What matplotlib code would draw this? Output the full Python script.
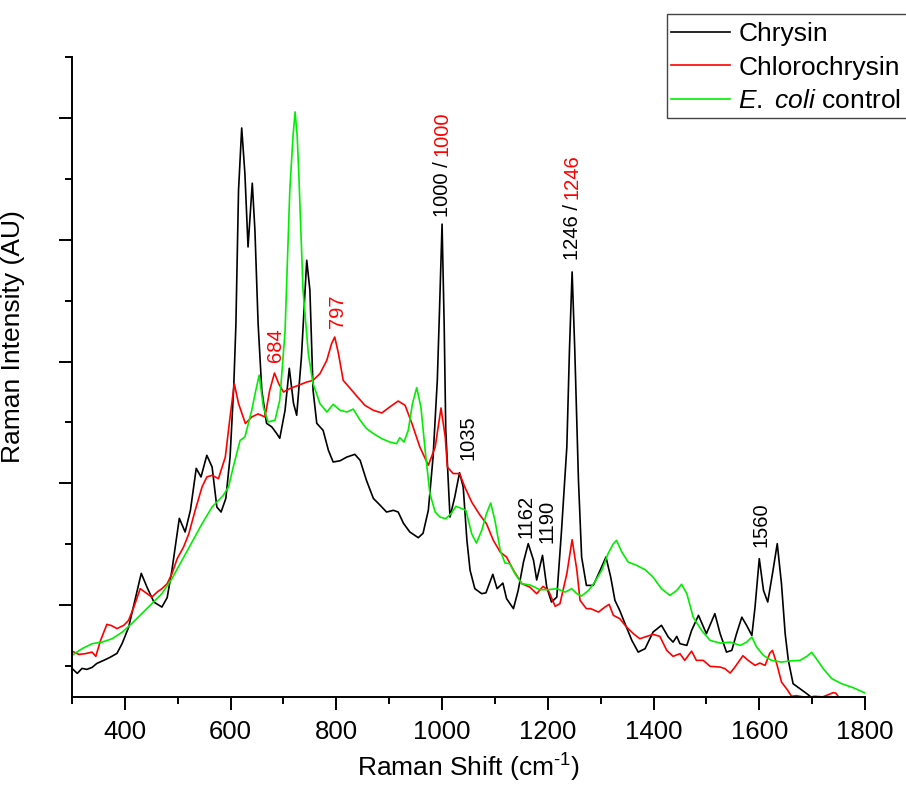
import matplotlib
matplotlib.use("Agg")
import matplotlib.pyplot as plt
from matplotlib.ticker import MultipleLocator, NullFormatter
from matplotlib.patches import Rectangle

plt.rcParams['font.family'] = ['Liberation Sans', 'DejaVu Sans']
plt.rcParams['mathtext.fontset'] = 'custom'
plt.rcParams['mathtext.rm'] = 'Liberation Sans'
plt.rcParams['mathtext.it'] = 'Liberation Sans:italic'

# ---- data (Raman shift in cm-1, intensity in arbitrary units) ----
chrysin_x = [300, 310, 319, 328, 338, 347, 360, 372, 385, 395, 407, 419, 431, 442, 455, 470, 480, 489,
             503, 514, 524, 535, 544, 555, 565, 574, 582, 591, 599, 606, 610, 615, 621, 627, 633, 641,
             646, 652, 659, 668, 678, 687, 693, 703, 711, 719, 725, 734, 744, 750, 756, 763, 775, 785,
             794, 807, 820, 835, 845, 857, 870, 883, 895, 908, 917, 927, 939, 955, 964, 974, 983, 991,
             995, 1000, 1004, 1007, 1015, 1024, 1033, 1040, 1047, 1053, 1062, 1075, 1083, 1096, 1104,
             1115, 1122, 1135, 1144, 1154, 1163, 1173, 1179, 1190, 1198, 1207, 1217, 1226, 1236, 1241,
             1246, 1251, 1258, 1264, 1273, 1286, 1299, 1310, 1319, 1327, 1336, 1346, 1359, 1371, 1384,
             1399, 1415, 1428, 1437, 1444, 1450, 1463, 1472, 1485, 1500, 1516, 1526, 1538, 1548, 1557,
             1567, 1576, 1586, 1592, 1600, 1608, 1616, 1625, 1634, 1642, 1649, 1655, 1664, 1677, 1690,
             1699]
chrysin_y = [479, 438, 479, 471, 487, 520, 545, 570, 602, 685, 816, 1038, 1260, 1145, 1024, 983, 1060, 1285,
             1712, 1600, 1778, 2123, 2052, 2230, 2134, 1805, 1764, 1876, 2216, 2800, 3300, 4408, 4920, 4548,
             3942, 4466, 4080, 3315, 2764, 2493, 2463, 2410, 2370, 2600, 2945, 2657, 2559, 3038, 3833, 3586,
             2764, 2493, 2435, 2271, 2175, 2185, 2216, 2238, 2189, 2024, 1876, 1819, 1764, 1778, 1764, 1671,
             1600, 1553, 1589, 1778, 2216, 2846, 3400, 4130, 3300, 2435, 1723, 1887, 2087, 1970, 1531, 1285,
             1134, 1093, 1100, 1252, 1134, 1180, 1052, 970, 1120, 1353, 1504, 1367, 1205, 1408, 1147, 1024,
             1065, 1614, 2298, 3100, 3737, 3100, 2024, 1394, 1161, 1161, 1285, 1394, 1229, 1038, 956, 847,
             709, 613, 641, 777, 833, 736, 695, 742, 682, 668, 791, 915, 764, 929, 764, 613, 627, 764, 900,
             833, 750, 983, 1381, 1120, 1024, 1257, 1504, 1175, 764, 545, 353, 312, 271, 240]

chloro_x = [300, 313, 325, 338, 345, 354, 366, 375, 385, 398, 407, 417, 429, 442, 451, 461, 470, 480, 489,
            499, 511, 521, 533, 546, 555, 565, 577, 590, 599, 607, 615, 628, 640, 652, 665, 674, 683, 691,
            700, 712, 728, 744, 756, 769, 782, 791, 797, 804, 813, 826, 838, 854, 870, 886, 901, 917, 930,
            943, 958, 974, 987, 998, 1006, 1010, 1021, 1033, 1043, 1056, 1072, 1084, 1097, 1110, 1122,
            1135, 1151, 1166, 1179, 1191, 1201, 1214, 1223, 1236, 1246, 1255, 1261, 1273, 1281, 1296,
            1308, 1316, 1324, 1336, 1349, 1362, 1374, 1387, 1399, 1412, 1425, 1437, 1450, 1459, 1472,
            1481, 1494, 1507, 1526, 1535, 1545, 1554, 1569, 1579, 1592, 1601, 1611, 1620, 1625, 1633,
            1642, 1653, 1661, 1670, 1690, 1705, 1720, 1730, 1740, 1745, 1750]
chloro_y = [621, 594, 600, 613, 578, 709, 841, 830, 806, 833, 874, 983, 1134, 1093, 1065, 1106, 1134, 1175,
            1257, 1381, 1476, 1586, 1778, 1970, 2052, 2066, 2038, 2216, 2545, 2819, 2655, 2491, 2545, 2570,
            2545, 2764, 2906, 2819, 2750, 2778, 2805, 2832, 2846, 2901, 3011, 3148, 3202, 3066, 2846, 2780,
            2720, 2641, 2600, 2578, 2627, 2676, 2641, 2491, 2298, 2148, 2298, 2619, 2380, 2134, 2080, 2080,
            1970, 1846, 1737, 1668, 1531, 1435, 1394, 1285, 1175, 1147, 1093, 1153, 1120, 989, 1011, 1257,
            1537, 1285, 1038, 970, 970, 942, 983, 1005, 915, 888, 819, 764, 723, 742, 759, 742, 627, 578,
            600, 545, 621, 545, 545, 496, 490, 477, 441, 490, 583, 545, 504, 523, 504, 605, 627, 518, 367,
            304, 250, 255, 240, 250, 245, 262, 280, 275, 245]

ecoli_x = [300, 319, 338, 357, 376, 395, 413, 432, 451, 470, 489, 508, 527, 546, 565, 586, 596, 605, 618,
           627, 640, 647, 654, 662, 671, 684, 693, 703, 712, 718, 722, 726, 729, 737, 747, 756, 769, 782,
           794, 807, 820, 832, 845, 857, 870, 886, 901, 914, 920, 928, 936, 944, 952, 960, 968, 977, 987,
           996, 1007, 1018, 1026, 1033, 1045, 1056, 1065, 1075, 1084, 1092, 1100, 1110, 1119, 1128, 1138,
           1151, 1166, 1185, 1201, 1217, 1233, 1245, 1255, 1264, 1277, 1289, 1302, 1314, 1324, 1330, 1340,
           1352, 1368, 1384, 1399, 1415, 1431, 1444, 1453, 1463, 1475, 1491, 1507, 1526, 1545, 1564, 1576,
           1586, 1595, 1608, 1623, 1642, 1658, 1677, 1690, 1699, 1708, 1721, 1737, 1756, 1778, 1800]
ecoli_y = [586, 641, 682, 695, 723, 777, 847, 929, 1011, 1093, 1216, 1367, 1517, 1668, 1805, 1900, 1970,
           2134, 2353, 2380, 2600, 2750, 2888, 2627, 2504, 2518, 2684, 3250, 4408, 4850, 5052, 4850, 4545,
           3586, 3066, 2819, 2655, 2586, 2649, 2600, 2586, 2610, 2518, 2450, 2409, 2367, 2339, 2326, 2375,
           2339, 2435, 2655, 2786, 2627, 2271, 1915, 1764, 1723, 1709, 1756, 1811, 1800, 1778, 1586, 1509,
           1614, 1751, 1838, 1696, 1449, 1345, 1340, 1257, 1175, 1165, 1126, 1126, 1134, 1106, 1134, 1093,
           1074, 1120, 1189, 1285, 1422, 1504, 1531, 1435, 1353, 1326, 1290, 1230, 1134, 1079, 1120, 1170,
           1093, 900, 791, 709, 687, 695, 668, 695, 736, 654, 586, 545, 531, 540, 545, 578, 611, 559, 477,
           395, 353, 320, 277]

series_labels = ['Chrysin', 'Chlorochrysin', r'$\mathit{E.}$ $\mathit{coli}$ control']
series_colors = ['#000000', '#ff0000', '#00ee00']

# single-colour peak labels: (text, x, y_bottom, colour)
peak_labels = [('684', 684, 2997, '#ff0000'),
               ('797', 803, 3276, '#ff0000'),
               ('1035', 1049, 2191, '#000000'),
               ('1162', 1158, 1551, '#000000'),
               ('1190', 1199, 1509, '#000000'),
               ('1560', 1604, 1477, '#000000')]
# two-colour peak labels: (black text, red text, x, y_bottom)
pair_labels = [('1000 /', '1000', 1000, 4188),
               ('1246 /', '1246', 1246, 3835)]

# ---- figure ----
fig = plt.figure(figsize=(9.06, 7.85), dpi=100)
ax = fig.add_axes([72/906, 1-697/785, (865-72)/906, (697-57)/785])

for xs, ys, lab, col in zip([chrysin_x, chloro_x, ecoli_x], [chrysin_y, chloro_y, ecoli_y],
                            series_labels, series_colors):
    ax.plot(xs, ys, color=col, lw=1.2, label=lab)

ax.set_xlim(300, 1800)
ax.set_ylim(244, 5503)
ax.set_xticks([400, 600, 800, 1000, 1200, 1400, 1600, 1800])
ax.xaxis.set_minor_locator(MultipleLocator(100))
ax.yaxis.set_major_locator(MultipleLocator(1000))
ax.yaxis.set_minor_locator(MultipleLocator(500))
ax.yaxis.set_major_formatter(NullFormatter())

for s in ['top', 'right']:
    ax.spines[s].set_visible(False)
for s in ['left', 'bottom']:
    ax.spines[s].set_linewidth(1.4)

ax.tick_params(axis='both', which='major', direction='out', length=9.5, width=1.4, labelsize=18.5, pad=7)
ax.tick_params(axis='both', which='minor', direction='out', length=5, width=1.4)

ax.set_xlabel(r'Raman Shift (cm$^{\text{-}1}$)', fontsize=19)
ax.set_ylabel('Raman Intensity (AU)', fontsize=19)
ax.yaxis.set_label_coords(-0.059, 0.5625)
ax.xaxis.set_label_coords(0.5, -0.085)

for txt, x, y, col in peak_labels:
    ax.text(x, y, txt, rotation=90, ha='center', va='bottom', color=col, fontsize=14.5)

fig.canvas.draw()
for t_black, t_red, x, y in pair_labels:
    t1 = ax.text(x, y, t_black, rotation=90, ha='center', va='bottom', color='#000000', fontsize=14.5)
    fig.canvas.draw()
    bb = t1.get_window_extent()
    top_disp = bb.y1 + 5
    y_top = ax.transData.inverted().transform((0, top_disp))[1]
    ax.text(x, y_top, t_red, rotation=90, ha='center', va='bottom', color='#ff0000', fontsize=14.5)

# legend frame drawn separately (it runs off the right edge like the original)
fig.patches.append(Rectangle((667/906, 1-118/785), (920-667)/906, (118-14)/785,
                             transform=fig.transFigure, fill=False, edgecolor='#444444',
                             linewidth=1.0, zorder=5))
leg = fig.legend(loc='upper left', bbox_to_anchor=(667/906, 1-18/785), fontsize=19,
                 frameon=False, borderaxespad=0, borderpad=0.15,
                 handlelength=2.25, handletextpad=0.3, labelspacing=0.37)

fig.savefig('out.png', dpi=100, facecolor='white')
